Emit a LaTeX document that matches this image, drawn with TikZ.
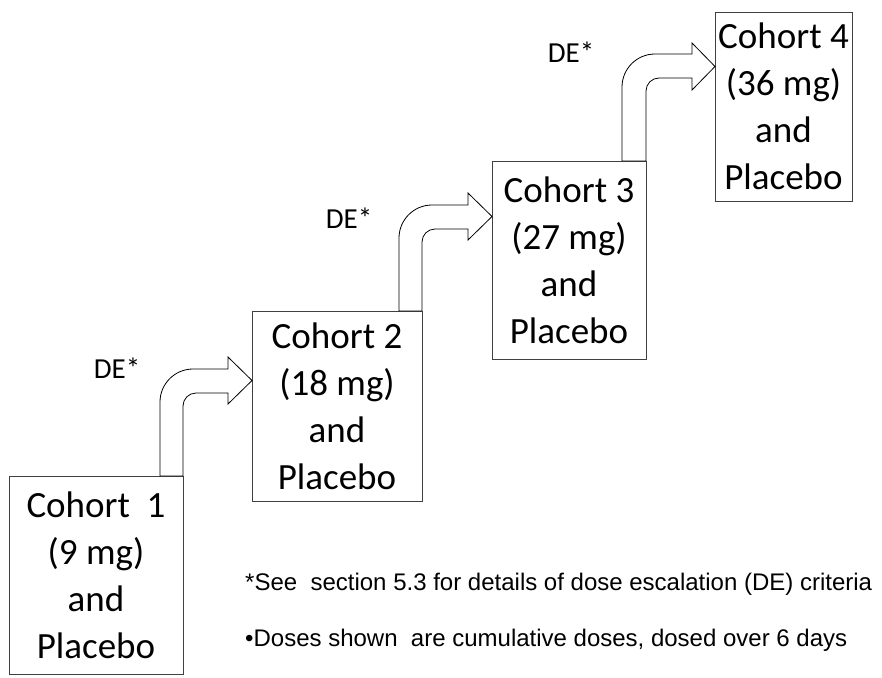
\documentclass[tikz,border=0pt]{standalone}
\usepackage{fontspec}
\setmainfont{Carlito}
\newfontfamily\notefont{Liberation Sans}
\newcommand\bentarrow[9]{%
  % #1 outer stem x, #2 inner stem x, #3 stem bottom y, #4 outer shaft y,
  % #5 inner shaft y, #6 head base x, #7 head top y, #8 head bottom y, #9 tip x
  \draw[arrowshape] (#1,#3) -- ({#1},{#4+33})
    .. controls ({#1},{#4+33-18.2}) and ({#1+33-18.2},{#4}) .. ({#1+33},{#4})
    -- (#6,#4) -- (#6,#7) -- ({#9},{(#7+#8)/2}) -- (#6,#8) -- (#6,#5)
    -- ({#2+13},{#5}) .. controls ({#2+13-7.2},{#5}) and ({#2},{#5+13-7.2}) .. ({#2},{#5+13})
    -- (#2,#3) -- cycle;}
\begin{document}
\begin{tikzpicture}[x=1pt,y=-1pt,
  cohort/.style={draw=black!75, line width=0.9pt, inner sep=0pt, align=center,
    font=\fontsize{37}{47}\selectfont},
  arrowshape/.style={draw=black, line width=0.8pt, fill=white},
  delabel/.style={anchor=base, inner sep=0pt, font=\fontsize{29}{35}\selectfont},
  note/.style={anchor=base west, inner sep=0pt, font=\notefont\fontsize{24}{29}\selectfont}]
\clip (0,0) rectangle (882,677);
\fill[white] (0,0) rectangle (882,677);

\node[cohort, minimum width=174pt, minimum height=198pt] (c1) at (96,575)
  {Cohort\ \ 1\\(9 mg)\\and\\Placebo};
\node[cohort, minimum width=170pt, minimum height=190pt] (c2) at (337,406)
  {Cohort 2\\(18 mg)\\and\\Placebo};
\node[cohort, minimum width=154pt, minimum height=198pt] (c3) at (569,260)
  {Cohort 3\\(27 mg)\\and\\Placebo};
\node[cohort, minimum width=137pt, minimum height=189pt] (c4) at (783.5,106.5)
  {Cohort 4\\(36 mg)\\and\\Placebo};

\bentarrow{160}{183}{476}{369}{393}{228}{357}{404}{252}
\bentarrow{399}{422}{311}{205}{229}{468}{193}{240}{492}
\bentarrow{622}{646}{161}{54}{78}{692}{43}{90}{715}

\node[delabel] (de1) at (117,378) {DE*};
\node[delabel] (de2) at (349,228) {DE*};
\node[delabel] (de3) at (571,63) {DE*};

\node[note] (n1) at (245,590) {*See\ \ section 5.3 for details of dose escalation (DE) criteria};
\node[note] (n2) at (245,646) {•Doses shown\ \ are cumulative doses, dosed over 6 days};
\end{tikzpicture}
\end{document}
